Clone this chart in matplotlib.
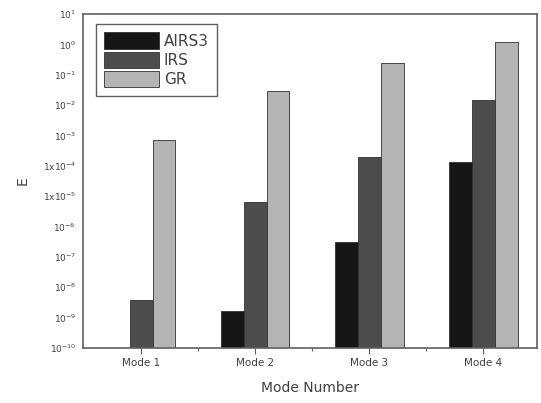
import matplotlib
import numpy as np

matplotlib.use("Agg")
import matplotlib.pyplot as plt

modes = ["Mode 1", "Mode 2", "Mode 3", "Mode 4"]
series_names = ["AIRS3", "IRS", "GR"]
airs3 = [np.nan, 1.6e-9, 3.2e-7, 1.3e-4]
irs = [3.8e-9, 6.2e-6, 1.9e-4, 0.015]
gr = [7.1e-4, 0.03, 0.24, 1.17]
colors = ["#161616", "#4c4c4c", "#b4b4b4"]
exponents = list(range(1, -11, -1))
ytick_labels = [
    r"$1\mathrm{x}10^{%d}$" % e if e in (-4, -5) else r"$10^{%d}$" % e
    for e in exponents
]

text_color = "#404040"
fig = plt.figure(figsize=(5.41, 4.03), dpi=100)
ax = fig.add_axes([0.1534, 0.1365, 0.8392, 0.8288])

x = np.arange(1, len(modes) + 1)
width = 0.2
for i, (name, values) in enumerate(zip(series_names, [airs3, irs, gr])):
    ax.bar(x + (i - 1) * width, values, width, bottom=1e-10, color=colors[i],
           edgecolor="#303030", linewidth=0.6, label=name)

ax.set_yscale("log")
ax.set_ylim(1e-10, 10)
ax.set_xlim(0.49, 4.47)
ax.set_yticks([10.0 ** e for e in exponents])
ax.set_yticklabels(ytick_labels)
ax.yaxis.set_minor_locator(matplotlib.ticker.NullLocator())
ax.set_xticks(x)
ax.set_xticklabels(modes)
ax.set_xticks([1.5, 2.5, 3.5], minor=True)

ax.tick_params(axis="y", which="both", direction="in", length=0, labelsize=6.5,
               labelcolor=text_color, pad=5)
ax.tick_params(axis="x", which="major", direction="out", length=4, width=0.8,
               labelsize=7.5, labelcolor=text_color, color="#606060")
ax.tick_params(axis="x", which="minor", direction="out", length=2, width=0.8,
               color="#606060")
for spine in ax.spines.values():
    spine.set_color("#606060")
    spine.set_linewidth(1.2)

ax.set_xlabel("Mode Number", fontsize=10, color=text_color, labelpad=9)
ax.set_ylabel("E", fontsize=10, color=text_color, rotation=90, labelpad=9)

leg = ax.legend(loc="upper left", bbox_to_anchor=(0.028, 0.97), fontsize=11,
                handlelength=3.6, handleheight=1.25, labelspacing=0.2,
                handletextpad=0.3, borderpad=0.55, borderaxespad=0,
                fancybox=False, edgecolor="#606060", framealpha=1)
for text in leg.get_texts():
    text.set_color(text_color)

fig.savefig("out.png", dpi=100)
